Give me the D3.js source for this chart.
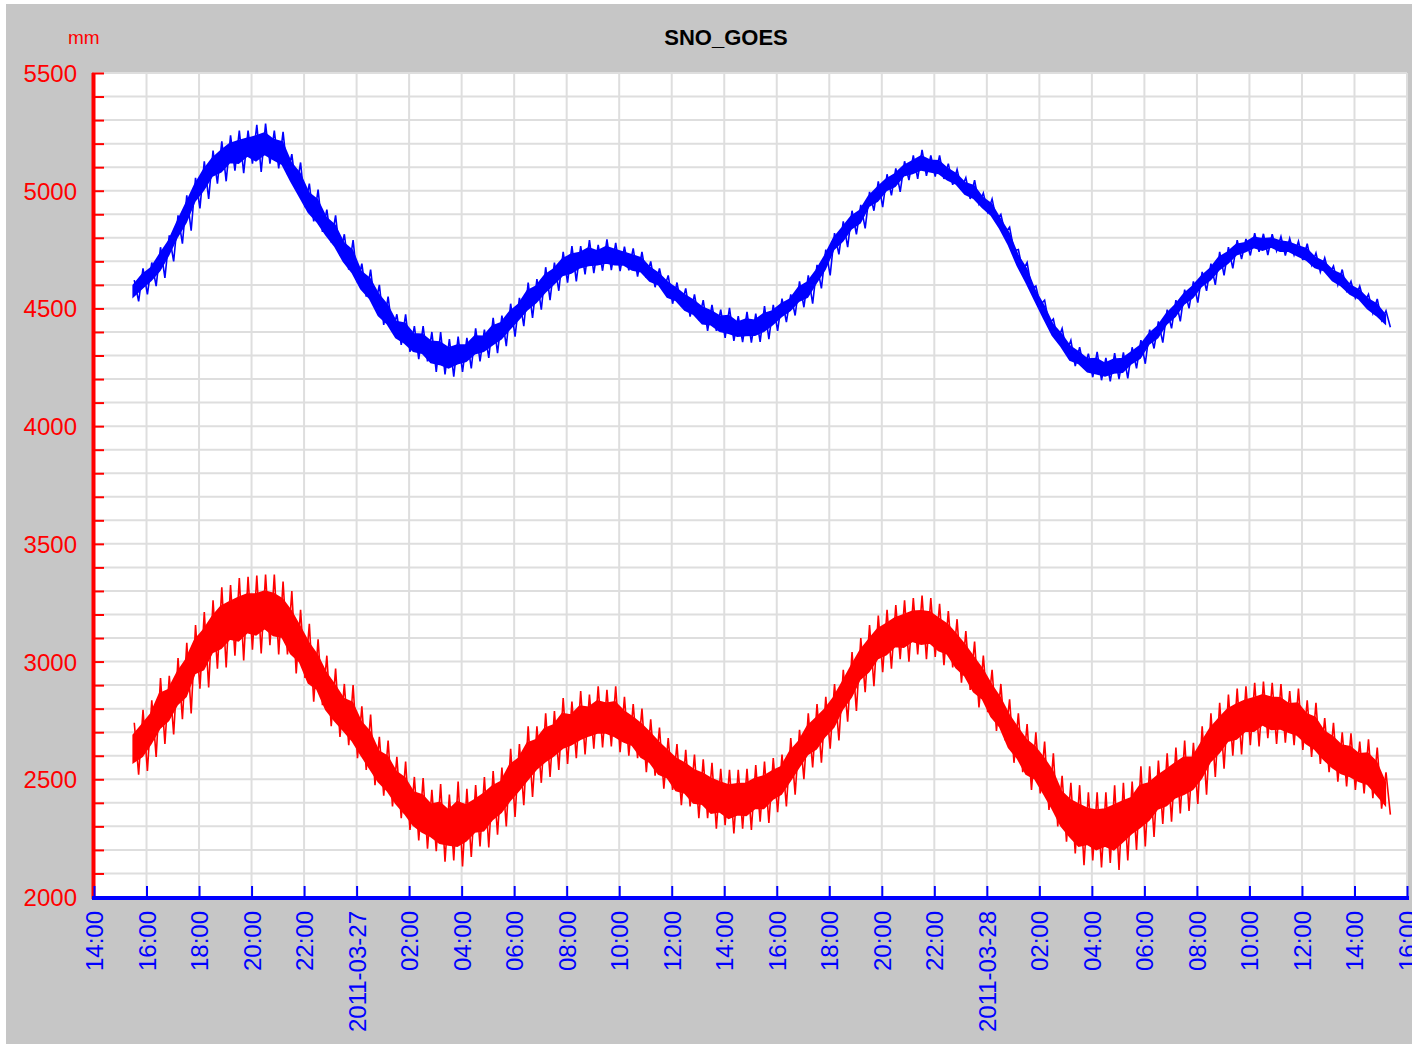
<!DOCTYPE html>
<html>
<head>
<meta charset="utf-8">
<script src="https://cdn.jsdelivr.net/npm/d3@7"></script>
<style>
  html, body { margin: 0; padding: 0; background: #ffffff; }
  svg { display: block; }
  text { font-family: "Liberation Sans", Arial, sans-serif; }
</style>
</head>
<body>
<svg id="chart" width="1412" height="1044"></svg>
<script>
// ---------------- DATA ----------------
const chartTitle = "SNO_GOES";
const unitLabel = "mm";
const axisStart = "2011-03-26T14:00:00Z";
const axisEnd = "2011-03-28T16:00:00Z";
const seriesStart = "2011-03-26T15:30:00Z"; // first 20-minute bin
const binMinutes = 20;
const yMajorTicks = [2000, 2500, 3000, 3500, 4000, 4500, 5000, 5500];
const yMinorStep = 100;

// blue series: centre of each 20-minute bin (mm)
const blueMid = [
  4575, 4615,
  4645, 4695, 4755,
  4835, 4905, 4990,
  5045, 5100, 5125,
  5160, 5165, 5185,
  5180, 5200, 5175,
  5160, 5080, 5025,
  4950, 4915, 4850,
  4810, 4740, 4700,
  4620, 4585, 4515,
  4475, 4410, 4395,
  4355, 4350, 4315,
  4310, 4290, 4305,
  4310, 4345, 4350,
  4385, 4405, 4450,
  4485, 4535, 4560,
  4605, 4635, 4675,
  4690, 4705, 4720,
  4715, 4728, 4718,
  4712, 4695, 4685,
  4645, 4625, 4580,
  4560, 4525, 4505,
  4470, 4460, 4435,
  4432, 4412, 4420,
  4418, 4440, 4460,
  4492, 4515, 4560,
  4580, 4635, 4695,
  4775, 4815, 4865,
  4890, 4955, 4985,
  5025, 5045, 5085,
  5100, 5118, 5105,
  5100, 5070, 5050,
  5010, 4995, 4950,
  4920, 4860, 4795,
  4705, 4640, 4555,
  4485, 4410, 4365,
  4310, 4290, 4258,
  4255, 4240, 4255,
  4258, 4290, 4315,
  4370, 4400, 4455,
  4490, 4540, 4570,
  4615, 4645, 4690,
  4715, 4750, 4760,
  4780, 4772, 4780,
  4765, 4762, 4745,
  4730, 4695, 4680,
  4640, 4620, 4580,
  4560, 4520, 4495,
  4455
];
// blue series: min-to-max spread inside each bin (mm)
const blueRange = [
  90, 110,
  100, 130, 110,
  120, 150, 130,
  160, 140, 170,
  150, 180, 140,
  200, 170, 160,
  180, 150, 190,
  160, 180, 140,
  170, 150, 180,
  140, 160, 170,
  150, 130, 160,
  140, 150, 170,
  180, 160, 150,
  130, 140, 120,
  150, 130, 140,
  120, 150, 130,
  140, 120, 130,
  150, 120, 140,
  110, 130, 120,
  100, 120, 110,
  110, 90, 120,
  100, 120, 110,
  130, 110, 120,
  140, 110, 130,
  120, 140, 110,
  100, 90, 110,
  120, 100, 110,
  90, 110, 100,
  100, 80, 110,
  90, 100, 80,
  100, 110, 90,
  100, 90, 80,
  90, 100, 80,
  90, 80, 100,
  90, 110, 80,
  100, 90, 100,
  110, 90, 100,
  120, 100, 110,
  110, 90, 100,
  80, 90, 80,
  90, 80, 90,
  80, 90, 100,
  90, 80, 70,
  80, 90, 70,
  80, 70, 80,
  90, 80, 70,
  80, 90, 70,
  70, 80, 90,
  70
];
// red series: centre of each 20-minute bin (mm)
const redMid = [
  2630, 2665,
  2715, 2790, 2815,
  2885, 2930, 3020,
  3050, 3115, 3145,
  3175, 3180, 3205,
  3200, 3220, 3200,
  3185, 3125, 3075,
  2995, 2955, 2875,
  2825, 2775, 2745,
  2675, 2625, 2555,
  2525, 2465, 2430,
  2375, 2355, 2325,
  2315, 2295, 2310,
  2315, 2345, 2360,
  2400, 2425, 2485,
  2520, 2575, 2605,
  2645, 2665, 2705,
  2710, 2740, 2745,
  2765, 2760, 2755,
  2725, 2705, 2665,
  2635, 2590, 2565,
  2520, 2505, 2470,
  2460, 2430, 2425,
  2405, 2415, 2415,
  2440, 2445, 2475,
  2495, 2555, 2605,
  2665, 2695, 2740,
  2785, 2855, 2915,
  2985, 3025, 3075,
  3095, 3125, 3130,
  3150, 3145, 3145,
  3115, 3095, 3045,
  3005, 2945, 2905,
  2835, 2785, 2705,
  2655, 2595, 2570,
  2515, 2455, 2375,
  2335, 2305, 2300,
  2285, 2295, 2295,
  2320, 2345, 2385,
  2405, 2445, 2465,
  2495, 2515, 2525,
  2580, 2645, 2685,
  2730, 2745, 2770,
  2775, 2795, 2780,
  2780, 2760, 2755,
  2715, 2695, 2645,
  2615, 2585, 2575,
  2550, 2545, 2505,
  2440
];
// red series: min-to-max spread inside each bin (mm)
const redRange = [
  220, 260,
  240, 280, 250,
  260, 300, 270,
  320, 290, 340,
  300, 350, 310,
  330, 300, 340,
  310, 350, 290,
  330, 280, 300,
  290, 260, 310,
  270, 300, 250,
  280, 260, 290,
  270, 300, 260,
  330, 280, 360,
  290, 260, 300,
  270, 250, 290,
  260, 300, 240,
  270, 250, 280,
  240, 270, 230,
  260, 240, 280,
  250, 230, 270,
  240, 260, 220,
  260, 240, 270,
  250, 280, 240,
  270, 250, 260,
  240, 260, 230,
  220, 240, 210,
  230, 250, 220,
  240, 220, 250,
  230, 260, 240,
  250, 230, 260,
  240, 270, 250,
  260, 240, 270,
  250, 280, 240,
  260, 240, 270,
  250, 280, 260,
  290, 310, 280,
  300, 340, 290,
  320, 300, 360,
  330, 290, 340,
  300, 270, 290,
  280, 300, 260,
  290, 270, 280,
  260, 280, 250,
  270, 240, 260,
  250, 230, 260,
  240, 260, 230,
  250, 230, 240,
  220, 250, 260,
  180
];

// ---------------- DRAWING ----------------
const svg = d3.select("#chart");
const W = 1412, H = 1044;
const plot = { left: 94, right: 1407, top: 73, bottom: 897 };

const x = d3.scaleUtc()
  .domain([new Date(axisStart), new Date(axisEnd)])
  .range([plot.left, plot.right]);
const y = d3.scaleLinear()
  .domain([yMajorTicks[0], yMajorTicks[yMajorTicks.length - 1]])
  .range([plot.bottom, plot.top]);

// backgrounds
svg.append("rect").attr("x", 6).attr("y", 4).attr("width", W - 6).attr("height", H - 4)
  .attr("fill", "#c6c6c6");
svg.append("rect").attr("x", plot.left).attr("y", plot.top)
  .attr("width", plot.right - plot.left).attr("height", plot.bottom - plot.top)
  .attr("fill", "#ffffff");

const xTicks = d3.utcHour.every(2).range(x.domain()[0], new Date(+x.domain()[1] + 1));
const yMinor = d3.range(yMajorTicks[0], yMajorTicks[yMajorTicks.length - 1] + 1, yMinorStep);

// grid
const grid = svg.append("g").attr("stroke", "#dedede").attr("stroke-width", 2);
grid.selectAll("line.h").data(yMinor).join("line").attr("class", "h")
  .attr("x1", plot.left).attr("x2", plot.right)
  .attr("y1", d => y(d)).attr("y2", d => y(d));
grid.selectAll("line.v").data(xTicks).join("line").attr("class", "v")
  .attr("x1", d => x(d)).attr("x2", d => x(d))
  .attr("y1", plot.top).attr("y2", plot.bottom);

// series: dense core band + min/max zig-zag for each bin
const t0 = new Date(seriesStart).getTime();
const binMs = binMinutes * 60000;
function bins(mid, range) {
  return mid.map((m, i) => ({ t: new Date(t0 + i * binMs), mid: m, range: range[i] }));
}
function zigzag(data) {
  const pts = [];
  data.forEach(d => {
    pts.push([new Date(+d.t + binMs * 0.1), d.mid + d.range / 2]);
    pts.push([new Date(+d.t + binMs * 0.6), d.mid - d.range / 2]);
  });
  return pts;
}
const coreArea = d3.area().curve(d3.curveLinear)
  .x(d => x(d.t))
  .y0(d => y(d.mid - d.range * 0.26))
  .y1(d => y(d.mid + d.range * 0.26));
const line = d3.line().x(d => x(d[0])).y(d => y(d[1]));

svg.append("defs").append("clipPath").attr("id", "clip")
  .append("rect").attr("x", plot.left).attr("y", plot.top)
  .attr("width", plot.right - plot.left).attr("height", plot.bottom - plot.top);
const series = svg.append("g").attr("clip-path", "url(#clip)");

function drawSeries(mid, range, color) {
  const data = bins(mid, range);
  series.append("path").datum(data).attr("d", coreArea)
    .attr("fill", color).attr("stroke", color).attr("stroke-width", 2);
  series.append("path").datum(zigzag(data)).attr("d", line)
    .attr("fill", "none").attr("stroke", color).attr("stroke-width", 1.6);
}
drawSeries(blueMid, blueRange, "#0000ff");
drawSeries(redMid, redRange, "#ff0000");

// left axis (red)
const yAxis = d3.axisRight(y).tickValues(yMinor).tickSize(12).tickFormat("");
const gy = svg.append("g").attr("transform", `translate(${plot.left - 2},0)`).call(yAxis);
gy.select(".domain").remove();
gy.selectAll(".tick line").attr("stroke", "#ff0000").attr("stroke-width", 2);
svg.append("line").attr("x1", plot.left - 0.5).attr("x2", plot.left - 0.5)
  .attr("y1", plot.top).attr("y2", plot.bottom + 2)
  .attr("stroke", "#ff0000").attr("stroke-width", 4);
svg.append("g").selectAll("text").data(yMajorTicks).join("text")
  .attr("x", 77).attr("y", d => y(d) + 9)
  .attr("text-anchor", "end").attr("fill", "#ff0000")
  .attr("font-size", 24).text(d => d);

// bottom axis (blue)
const xAxis = d3.axisTop(x).tickValues(xTicks).tickSize(11).tickFormat("");
const gx = svg.append("g").attr("transform", `translate(0,${plot.bottom})`).call(xAxis);
gx.select(".domain").remove();
gx.selectAll(".tick line").attr("stroke", "#0000ff").attr("stroke-width", 2);
svg.append("line").attr("x1", plot.left - 2).attr("x2", plot.right + 2)
  .attr("y1", plot.bottom + 1).attr("y2", plot.bottom + 1)
  .attr("stroke", "#0000ff").attr("stroke-width", 4);

const fmtHour = d3.utcFormat("%H:%M");
const fmtDay = d3.utcFormat("%Y-%m-%d");
svg.append("g").selectAll("text").data(xTicks).join("text")
  .attr("transform", d => `translate(${x(d) + 9},911) rotate(-90)`)
  .attr("text-anchor", "end").attr("fill", "#0000ff").attr("font-size", 24)
  .text(d => (d.getUTCHours() === 0 ? fmtDay(d) : fmtHour(d)));

// title & unit
svg.append("text").attr("x", 726).attr("y", 45).attr("text-anchor", "middle")
  .attr("font-size", 22).attr("font-weight", "bold").attr("fill", "#000000")
  .text(chartTitle);
svg.append("text").attr("x", 68).attr("y", 44).attr("fill", "#ff0000")
  .attr("font-size", 19).text(unitLabel);
</script>
</body>
</html>
